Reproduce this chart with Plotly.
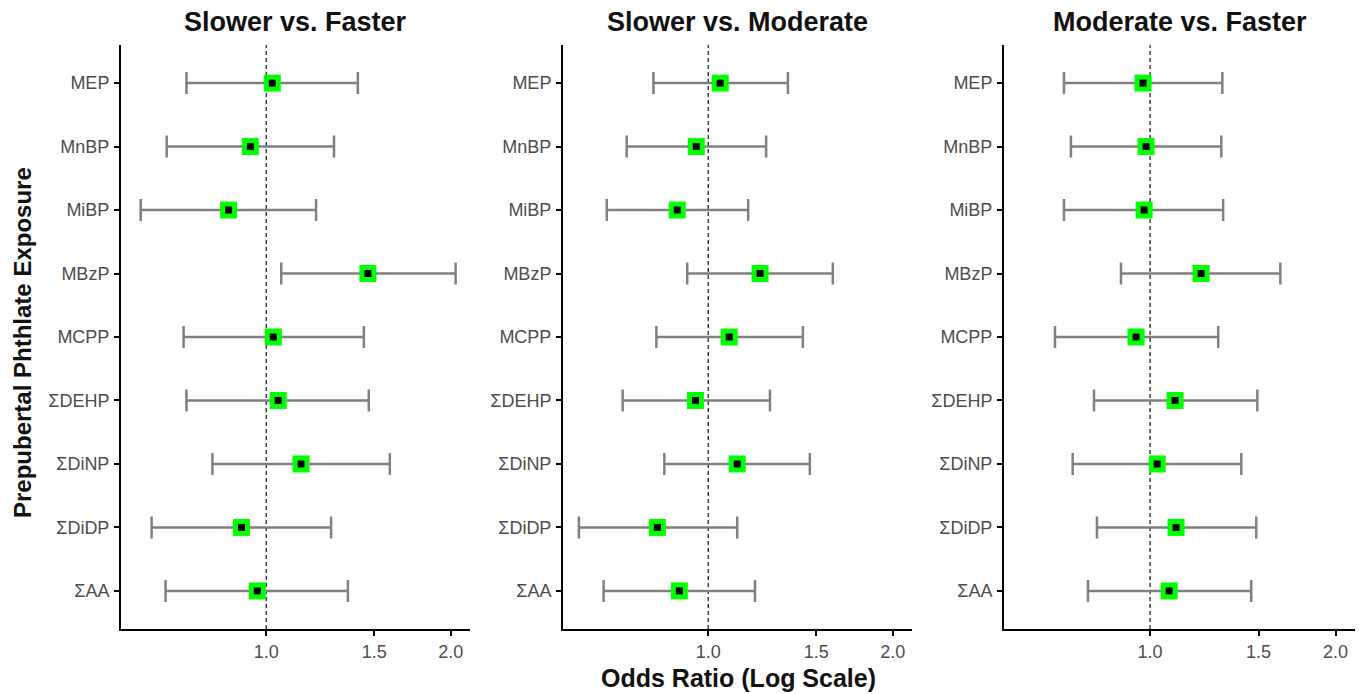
import plotly.graph_objects as go

exposures = ["MEP", "MnBP", "MiBP", "MBzP", "MCPP", "ΣDEHP", "ΣDiNP", "ΣDiDP", "ΣAA"]
panel_titles = ["Slower vs. Faster", "Slower vs. Moderate", "Moderate vs. Faster"]

# Slower vs. Faster
sf_or = [1.023, 0.942, 0.868, 1.465, 1.027, 1.046, 1.140, 0.911, 0.967]
sf_lo = [0.741, 0.688, 0.624, 1.058, 0.733, 0.741, 0.817, 0.650, 0.685]
sf_hi = [1.411, 1.290, 1.206, 2.037, 1.443, 1.470, 1.591, 1.276, 1.359]

# Slower vs. Moderate
sm_or = [1.046, 0.956, 0.890, 1.215, 1.082, 0.953, 1.115, 0.826, 0.897]
sm_lo = [0.814, 0.736, 0.683, 0.924, 0.823, 0.725, 0.848, 0.615, 0.675]
sm_hi = [1.349, 1.243, 1.162, 1.597, 1.427, 1.261, 1.465, 1.115, 1.192]

# Moderate vs. Faster
mf_or = [0.974, 0.985, 0.978, 1.210, 0.949, 1.098, 1.027, 1.102, 1.074]
mf_lo = [0.725, 0.744, 0.725, 0.897, 0.701, 0.811, 0.749, 0.820, 0.793]
mf_hi = [1.310, 1.305, 1.314, 1.627, 1.290, 1.493, 1.406, 1.487, 1.459]

x_tickvals = [1.0, 1.5, 2.0]
x_ticktext = ["1.0", "1.5", "2.0"]

panels = [(sf_or, sf_lo, sf_hi), (sm_or, sm_lo, sm_hi), (mf_or, mf_lo, mf_hi)]

# page body has an 8px margin; size the figure to fill the remaining viewport
OFF = 8
W, H = 1366 - OFF, 694 - OFF


def px_x(x):
    return (x - OFF) / W


def px_y(y):
    return 1 - (y - OFF) / H


x_domains = [(px_x(121), px_x(470)), (px_x(563), px_x(912)), (px_x(1004), px_x(1355))]
y_domain = (px_y(629), px_y(45))

FONT = "Liberation Sans, Arial, Helvetica, sans-serif"

fig = go.Figure()
layout = dict(
    width=W, height=H,
    margin=dict(l=0, r=0, t=0, b=0),
    paper_bgcolor="white", plot_bgcolor="white",
    showlegend=False,
    font=dict(family=FONT),
)

annotations = []
shapes = []
for i, ((orv, lo, hi), title) in enumerate(zip(panels, panel_titles)):
    sfx = "" if i == 0 else str(i + 1)
    xa, ya = "x" + sfx, "y" + sfx
    err_plus = [h - o for h, o in zip(hi, orv)]
    err_minus = [o - l for o, l in zip(orv, lo)]
    fig.add_trace(go.Scatter(
        x=orv, y=exposures, xaxis=xa, yaxis=ya, mode="markers",
        marker=dict(symbol="square", size=17, color="#00FF00"),
        error_x=dict(type="data", array=err_plus, arrayminus=err_minus,
                     color="#808080", thickness=2.5, width=11),
        hoverinfo="skip",
    ))
    fig.add_trace(go.Scatter(
        x=orv, y=exposures, xaxis=xa, yaxis=ya, mode="markers",
        marker=dict(symbol="square", size=7, color="black"),
        hoverinfo="skip",
    ))
    shapes.append(dict(type="line", xref=xa, yref="paper", x0=1, x1=1,
                       y0=y_domain[0], y1=y_domain[1],
                       line=dict(color="#222222", width=1.3, dash="4px,3px"),
                       layer="below"))
    layout["xaxis" + sfx] = dict(
        type="log", domain=list(x_domains[i]), anchor=ya,
        range=[-0.237, 0.3325],
        tickvals=x_tickvals, ticktext=x_ticktext,
        ticks="outside", ticklen=5, tickwidth=1.5, tickcolor="black",
        showline=True, linecolor="black", linewidth=2,
        showgrid=False, zeroline=False,
        tickfont=dict(size=18, color="#4D4D4D", family=FONT),
    )
    layout["yaxis" + sfx] = dict(
        type="category", domain=list(y_domain), anchor=xa,
        categoryorder="array", categoryarray=exposures,
        range=[8.6, -0.6],
        ticks="outside", ticklen=5, tickwidth=1.5, tickcolor="black",
        ticklabelstandoff=1,
        showline=True, linecolor="black", linewidth=2,
        showgrid=False, zeroline=False,
        tickfont=dict(size=18, color="#4D4D4D", family=FONT),
    )
    annotations.append(dict(
        text="<b>%s</b>" % title, xref="paper", yref="paper",
        x=sum(x_domains[i]) / 2, y=px_y(22),
        xanchor="center", yanchor="middle",
        showarrow=False, font=dict(size=27, color="#111111", family=FONT),
    ))

annotations.append(dict(
    text="<b>Odds Ratio (Log Scale)</b>", xref="paper", yref="paper",
    x=px_x(738), y=px_y(678), xanchor="center", yanchor="middle",
    showarrow=False, font=dict(size=25, color="#111111", family=FONT),
))
annotations.append(dict(
    text="<b>Prepubertal Phthlate Exposure</b>", xref="paper", yref="paper",
    x=px_x(22), y=px_y(343), xanchor="center", yanchor="middle", textangle=-90,
    showarrow=False, font=dict(size=24, color="#111111", family=FONT),
))

layout["annotations"] = annotations
layout["shapes"] = shapes
fig.update_layout(**layout)
fig.write_html("out.html")
